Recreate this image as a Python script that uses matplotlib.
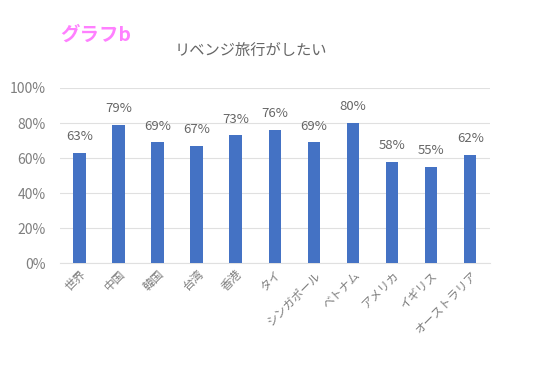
import matplotlib
matplotlib.use("Agg")
import matplotlib.pyplot as plt
from matplotlib.ticker import PercentFormatter

plt.rcParams['font.family'] = ['Noto Sans CJK JP', 'DejaVu Sans']

categories = ["世界", "中国", "韓国", "台湾", "香港", "タイ", "シンガポール", "ベトナム", "アメリカ", "イギリス", "オーストラリア"]
values = [63, 79, 69, 67, 73, 76, 69, 80, 58, 55, 62]
yticks = [0, 20, 40, 60, 80, 100]

fig = plt.figure(figsize=(5.54, 3.65), dpi=100)
ax = fig.add_axes([0.108, 0.279, 0.776, 0.48])

x = range(len(categories))
bars = ax.bar(x, values, width=0.32, color="#4472C4", zorder=3)
for xi, v in zip(x, values):
    ax.text(xi, v + 5.5, f"{v}%", ha="center", va="bottom", fontsize=9.5, color="#666666")

ax.set_ylim(0, 100)
ax.set_xlim(-0.5, len(categories) - 0.5)
ax.set_yticks(yticks)
ax.yaxis.set_major_formatter(PercentFormatter(decimals=0))
ax.grid(axis="y", color="#E0E0E0", linewidth=0.8, zorder=0)
for s in ["top", "right", "left"]:
    ax.spines[s].set_visible(False)
ax.spines["bottom"].set_color("#E0E0E0")
ax.tick_params(axis="both", length=0, colors="#7F7F7F", labelsize=10)
ax.tick_params(axis="y", pad=10)
ax.set_xticks(list(x))
ax.set_xticklabels(categories, rotation=45, ha="right", rotation_mode="anchor", fontsize=8.5)

fig.text(0.316, 0.862, "リベンジ旅行がしたい", ha="left", va="center", fontsize=11, color="#666666")
fig.text(0.108, 0.905, "グラフb", ha="left", va="center", fontsize=14, fontweight="bold", color="#FF80FF")

fig.savefig("out.png", dpi=100, facecolor="white")
